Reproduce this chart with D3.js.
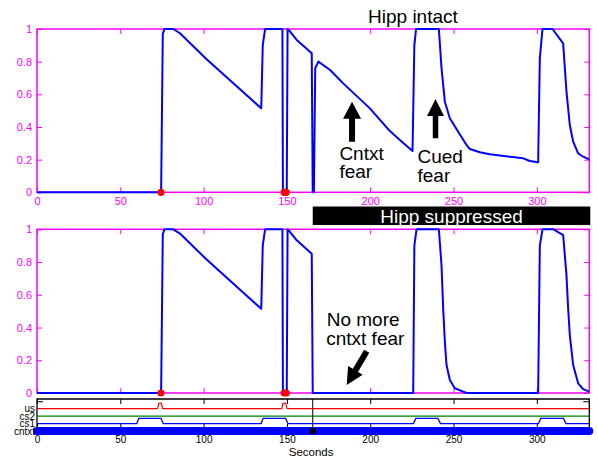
<!DOCTYPE html>
<html><head><meta charset="utf-8">
<script src="https://cdn.jsdelivr.net/npm/d3@7"></script>
<style>
body{margin:0;background:#fff;}
svg{display:block;font-family:"Liberation Sans",Arial,Helvetica,sans-serif;}
</style></head><body>
<svg id="c" width="598" height="459"></svg>
<script>
// ---------- data ----------
const xTicks = [0, 50, 100, 150, 200, 250, 300];
const yTicks = [0, 0.2, 0.4, 0.6, 0.8, 1];
const tMax = 331.5;
const suppressTime = 165.5;

// fear output, hippocampus intact  [seconds, value]
const intactCurve = [
  [0,0],[74.5,0],[75.5,0.97],[76.5,1],[81.8,1],[85.8,0.974],[101.8,0.815],[134.6,0.514],
  [135.5,0.90],[136.9,1],[147.3,1],[147.6,0],[149.9,0],[150.4,1],[151.8,0.985],[155.9,0.933],
  [164.9,0.851],[165.5,0],[166.2,0],[167,0.76],[168.9,0.80],[175.9,0.749],[183.8,0.667],
  [199.8,0.514],[211.8,0.375],[217.8,0.32],[225.4,0.253],[226.5,0.90],[227.5,1],[241.2,1],
  [242.8,0.76],[244.8,0.555],[247.8,0.453],[252.8,0.371],[257.8,0.29],[259.8,0.265],
  [265.8,0.245],[271.8,0.233],[291.8,0.208],[295.8,0.192],[300.8,0.184],[301.8,0.82],
  [303.4,1],[309.4,1],[315.8,0.912],[317.8,0.616],[319.8,0.412],[321.8,0.31],[324.8,0.239],
  [327.8,0.218],[331.5,0.202]
];
// fear output, hippocampus suppressed
const suppressedCurve = [
  [0,0],[74.5,0],[75.5,0.97],[76.5,1],[81.8,1],[85.8,0.974],[101.8,0.815],[134.6,0.514],
  [135.5,0.90],[136.9,1],[147.3,1],[147.6,0],[149.9,0],[150.4,1],[151.8,0.985],[155.9,0.933],
  [164.9,0.851],[165.5,0],[225.8,0],[226.5,0.90],[227.8,1],[241.2,1],[242.8,0.78],
  [243.8,0.517],[244.8,0.313],[245.8,0.171],[247.8,0.079],[250.8,0.029],[255.8,0.008],
  [258,0],[300.8,0],[301.8,0.9],[303.4,1],[310,1],[315.8,0.965],[317.8,0.72],[318.8,0.517],
  [319.8,0.354],[321.8,0.171],[324.8,0.059],[327.8,0.024],[331.5,0.008]
];
// US markers on the time axis
const usDots = [74.4, 148.3, 149.6];

// input signals (bottom strip)
const signalNames = ["us", "cs2", "cs1", "cntxt"];
const signalColors = ["#ff0000", "#008000", "#0000ff", "#0000ff"];
const signalOffsets = [3, 2, 1, 0];
const usSignal = [[0,0],[72.3,0],[73.2,0.75],[74.6,0.75],[75.4,0],[146.9,0],[147.7,0.75],[149.2,0.75],[150.1,0],[331.5,0]];
const cs2Signal = [[0,0],[331.5,0]];
const cs1Signal = [[0,0],[59.8,0],[61.2,0.7],[74.4,0.7],[75.8,0],[134.5,0],[135.8,0.7],[149.2,0.7],[150.6,0],
  [225.9,0],[227.4,0.7],[240.6,0.7],[242.2,0],[301,0],[302.4,0.7],[316,0.7],[317.5,0],[331.5,0]];
const cntxtSignal = [[0,0],[331.5,0]];
const signals = [usSignal, cs2Signal, cs1Signal, cntxtSignal];

// ---------- drawing ----------
const MAG = "#ff00ff";
const svg = d3.select("#c");
const x = d3.scaleLinear().domain([0, tMax]).range([37, 589.3]);
const yTop = d3.scaleLinear().domain([0, 1]).range([192.3, 29]);
const yBot = d3.scaleLinear().domain([0, 1]).range([393, 229.3]);
const ySig = d3.scaleLinear().domain([0, 4.3]).range([431, 399]);

function styleAxis(g, color, fs) {
  g.select(".domain").remove();
  g.selectAll(".tick line").attr("stroke", color).attr("stroke-width", 1);
  g.selectAll(".tick text").attr("fill", color).attr("font-size", fs)
    .attr("font-family", '"Liberation Sans",Arial,Helvetica,sans-serif');
}

function panel(y, curve, showXLabels) {
  const g = svg.append("g");
  g.append("g").attr("transform", `translate(0,${y(0)})`)
    .call(d3.axisBottom(x).tickValues(xTicks).tickSize(-5).tickPadding(5)
      .tickFormat(showXLabels ? d3.format("d") : ""))
    .call(s => styleAxis(s, MAG, 11));
  g.append("g").attr("transform", `translate(0,${y(1)})`)
    .call(d3.axisTop(x).tickValues(xTicks).tickSize(-5).tickFormat(""))
    .call(s => styleAxis(s, MAG, 11));
  g.append("g").attr("transform", `translate(${x(0)},0)`)
    .call(d3.axisLeft(y).tickValues(yTicks).tickSize(-5).tickPadding(5).tickFormat(d => String(d)))
    .call(s => styleAxis(s, MAG, 11));
  g.append("g").attr("transform", `translate(${x(tMax)},0)`)
    .call(d3.axisRight(y).tickValues(yTicks).tickSize(-5).tickFormat(""))
    .call(s => styleAxis(s, MAG, 11));
  g.append("rect").attr("x", x(0)).attr("y", y(1))
    .attr("width", x(tMax) - x(0)).attr("height", y(0) - y(1))
    .attr("fill", "none").attr("stroke", MAG).attr("stroke-width", 1.5);
  const line = d3.line().x(d => x(d[0])).y(d => y(d[1]));
  g.append("path").datum(curve).attr("d", line)
    .attr("fill", "none").attr("stroke", "#0000ff").attr("stroke-width", 2)
    .attr("stroke-linejoin", "round");
  g.selectAll("circle.us").data(usDots).join("circle")
    .attr("cx", d => x(d)).attr("cy", y(0)).attr("r", 3.6).attr("fill", "#ff0000");
  return g;
}

panel(yTop, intactCurve, true);
panel(yBot, suppressedCurve, false);

// arrow helper
function arrow(x1, y1, x2, y2, shaftW, headW, headL) {
  const dx = x2 - x1, dy = y2 - y1, L = Math.hypot(dx, dy);
  const ux = dx / L, uy = dy / L, px = -uy, py = ux;
  const bx = x2 - ux * headL, by = y2 - uy * headL;
  const pts = [
    [x1 + px * shaftW / 2, y1 + py * shaftW / 2],
    [bx + px * shaftW / 2, by + py * shaftW / 2],
    [bx + px * headW / 2, by + py * headW / 2],
    [x2, y2],
    [bx - px * headW / 2, by - py * headW / 2],
    [bx - px * shaftW / 2, by - py * shaftW / 2],
    [x1 - px * shaftW / 2, y1 - py * shaftW / 2]
  ];
  svg.append("polygon").attr("points", pts.map(p => p.join(",")).join(" ")).attr("fill", "#000");
}

function label(txt, xx, yy, color) {
  svg.append("text").attr("x", xx).attr("y", yy).attr("font-size", 19)
    .attr("fill", color || "#000").text(txt);
}

// top annotations
label("Hipp intact", x(198.7), 23.3);
arrow(x(189.1), yTop(0.31), x(189.1), yTop(0.555), 6, 18, 17);
label("Cntxt", x(181.5), yTop(0.198));
label("fear", x(181.5), yTop(0.088));
arrow(x(239.2), yTop(0.331), x(239.2), yTop(0.571), 5.5, 17, 17);
label("Cued", x(228.4), yTop(0.178));
label("fear", x(228.4), yTop(0.065));

// hipp suppressed bar
svg.append("rect").attr("x", x(suppressTime)).attr("y", 206.5)
  .attr("width", x(tMax) + 1 - x(suppressTime)).attr("height", 18.5).attr("fill", "#000");
svg.append("text").attr("x", (x(suppressTime) + x(tMax) + 1) / 2).attr("y", 222.5)
  .attr("text-anchor", "middle").attr("font-size", 19).attr("fill", "#fff").text("Hipp suppressed");

// bottom annotations
label("No more", x(173.9), yBot(0.409));
label("cntxt fear", x(173.6), yBot(0.293));
arrow(x(197.9), yBot(0.255), x(185.9), yBot(0.049), 6, 17, 17);

// ---------- input strip ----------
const sg = svg.append("g");
sg.append("rect").attr("x", x(0)).attr("y", ySig(4.3)).attr("width", x(tMax) - x(0))
  .attr("height", ySig(0) - ySig(4.3)).attr("fill", "#fff");
sg.append("g").attr("transform", `translate(0,${ySig(0)})`)
  .call(d3.axisBottom(x).tickValues(xTicks).tickSize(-7).tickPadding(4.5).tickFormat(d3.format("d")))
  .call(s => styleAxis(s, "#000", 10));
sg.append("g").attr("transform", `translate(0,${ySig(4.3)})`)
  .call(d3.axisTop(x).tickValues(xTicks).tickSize(-5).tickFormat(""))
  .call(s => styleAxis(s, "#000", 10));
sg.append("g").attr("transform", `translate(${x(0)},0)`)
  .call(d3.axisLeft(ySig).tickValues([4]).tickSize(-6).tickFormat(""))
  .call(s => styleAxis(s, "#000", 10));
sg.append("g").attr("transform", `translate(${x(tMax)},0)`)
  .call(d3.axisRight(ySig).tickValues([4]).tickSize(-6).tickFormat(""))
  .call(s => styleAxis(s, "#000", 10));
// frame (top, left, right)
sg.append("path")
  .attr("d", `M${x(0)},${ySig(0)}V${ySig(4.3)}H${x(tMax)}V${ySig(0)}`)
  .attr("fill", "none").attr("stroke", "#000").attr("stroke-width", 1.3);

signals.forEach((sig, i) => {
  const off = signalOffsets[i];
  const ln = d3.line().x(d => x(d[0])).y(d => ySig(d[1] + off));
  if (signalNames[i] === "us") ln.curve(d3.curveMonotoneX);
  const isCtx = signalNames[i] === "cntxt";
  sg.append("path").datum(sig).attr("d", ln).attr("fill", "none")
    .attr("stroke", signalColors[i]).attr("stroke-width", isCtx ? 8 : 1.3)
    .attr("stroke-linecap", isCtx ? "round" : "butt");
  sg.append("text").attr("x", 35).attr("y", ySig(off)).attr("dy", "0.35em")
    .attr("text-anchor", "end").attr("font-size", 10).attr("fill", "#000").text(signalNames[i]);
});

// hipp suppression time marker
sg.append("line").attr("x1", x(suppressTime)).attr("x2", x(suppressTime))
  .attr("y1", ySig(4.3)).attr("y2", ySig(0)).attr("stroke", "#000").attr("stroke-width", 1);
sg.append("circle").attr("cx", x(suppressTime)).attr("cy", ySig(0)).attr("r", 3.2).attr("fill", "#000");

svg.append("text").attr("x", (x(0) + x(tMax)) / 2 - 2).attr("y", 455.5)
  .attr("text-anchor", "middle").attr("font-size", 11.5).attr("fill", "#000").text("Seconds");
</script>
</body></html>
